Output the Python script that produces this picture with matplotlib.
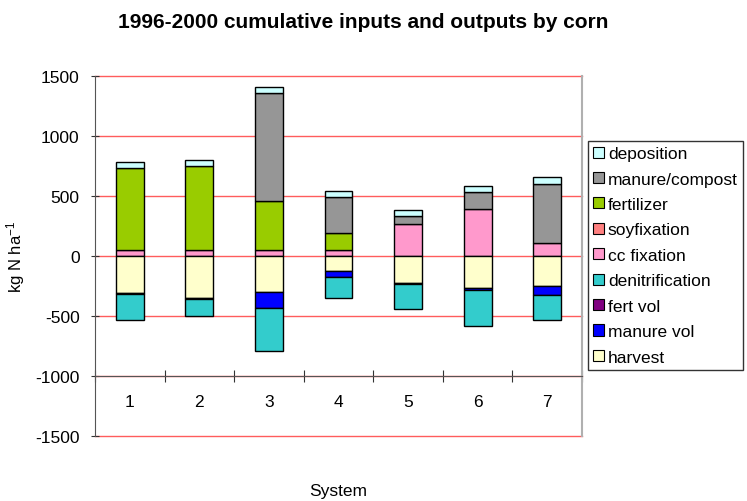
import matplotlib
matplotlib.use("Agg")
import matplotlib.pyplot as plt
from matplotlib.patches import Patch
import numpy as np

plt.rcParams['font.family'] = ['Liberation Sans', 'DejaVu Sans']
plt.rcParams['axes.unicode_minus'] = False
plt.rcParams['mathtext.default'] = 'regular'

systems = ['1', '2', '3', '4', '5', '6', '7']

# inputs (positive, stacked bottom -> top)
cc_fixation = [50, 50, 50, 50, 263, 390, 108]
soyfixation = [0, 0, 0, 0, 0, 0, 0]
fertilizer = [684, 697, 410, 144, 0, 0, 0]
manure_compost = [0, 0, 897, 294, 70, 145, 496]
deposition = [50, 50, 50, 52, 50, 52, 56]

# outputs (negative, stacked 0 -> down)
harvest = [-305, -346, -296, -121, -224, -263, -254]
manure_vol = [0, 0, -138, -53, 0, -22, -75]
fert_vol = [-15, -12, 0, 0, -12, 0, 0]
denitrification = [-212, -143, -360, -172, -207, -296, -208]

pos_series = [
    ('cc fixation', cc_fixation, '#FF99CC'),
    ('soyfixation', soyfixation, '#FF8080'),
    ('fertilizer', fertilizer, '#99CC00'),
    ('manure/compost', manure_compost, '#969696'),
    ('deposition', deposition, '#CCFFFF'),
]
neg_series = [
    ('harvest', harvest, '#FFFFCC'),
    ('manure vol', manure_vol, '#0000FF'),
    ('fert vol', fert_vol, '#800080'),
    ('denitrification', denitrification, '#33CCCC'),
]
legend_order = ['deposition', 'manure/compost', 'fertilizer', 'soyfixation',
                'cc fixation', 'denitrification', 'fert vol', 'manure vol', 'harvest']

fig = plt.figure(figsize=(7.47, 5.02), dpi=100)
ax = fig.add_axes([95 / 747, 1 - 437 / 502, 487 / 747, 360 / 502])

x = np.arange(1, len(systems) + 1)
width = 0.4
colors = {}

for series in (pos_series, neg_series):
    base = np.zeros(len(systems))
    for name, vals, col in series:
        vals = np.array(vals, dtype=float)
        colors[name] = col
        m = vals != 0
        ax.bar(x[m], vals[m], width, bottom=base[m], color=col,
               edgecolor='black', linewidth=1, zorder=3)
        base += vals

yticks = np.arange(-1500, 1501, 500)
ax.set_xlim(0.5, len(systems) + 0.5)
ax.set_ylim(-1500, 1500)
ax.set_yticks(yticks)
# red gridlines, including the top and bottom ones
for yv in yticks:
    ax.axhline(yv, color='#FF3333', linewidth=1, alpha=0.8, zorder=0, clip_on=False)

# category axis crosses at -1000
ax.spines['bottom'].set_position(('data', -1000))
ax.spines['bottom'].set_color('#555555')
ax.spines['bottom'].set_zorder(4)
ax.spines['left'].set_color('#555555')
ax.spines['top'].set_visible(False)
ax.spines['right'].set_color('#B0B0B0')
ax.spines['right'].set_linewidth(1.5)

ax.set_xticks(np.arange(0.5, len(systems) + 1, 1))
ax.set_xticklabels([])
ax.set_xticks(x, minor=True)
ax.set_xticklabels(systems, minor=True)
ax.tick_params(axis='x', which='major', direction='inout', length=9, color='#333333')
ax.tick_params(axis='x', which='minor', length=0, pad=13, labelsize=12.5)
ax.tick_params(axis='y', direction='inout', length=6, color='#333333', labelsize=12.5, pad=8)

ax.set_ylabel('kg N ha$^{-1}$', fontsize=12, labelpad=6)
fig.text(338 / 747, 1 - 492 / 502, 'System', ha='center', va='center', fontsize=12.5)
fig.suptitle('1996-2000 cumulative inputs and outputs by corn',
             x=363 / 747, y=1 - 23 / 502, va='center', fontsize=15, fontweight='bold')

handles = [Patch(facecolor=colors[n], edgecolor='black', linewidth=0.8, label=n)
           for n in legend_order]
leg = fig.legend(handles=handles, loc='upper left',
                 bbox_to_anchor=(588 / 747, 1 - 142 / 502),
                 fontsize=12.5, frameon=True, fancybox=False,
                 handlelength=0.6, handleheight=0.6, handletextpad=0.25,
                 labelspacing=0.6, borderpad=0.3, borderaxespad=0)
leg.get_frame().set_edgecolor('black')
leg.get_frame().set_linewidth(1)

fig.savefig('out.png', dpi=100)
